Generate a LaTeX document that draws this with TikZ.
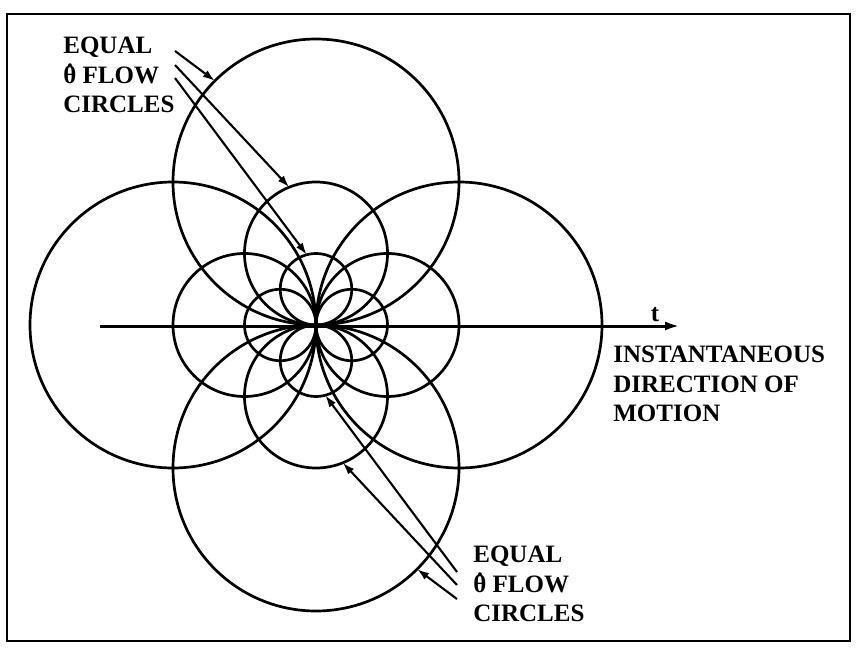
\documentclass[tikz,border=0pt]{standalone}
\usepackage{fontspec}
\setmainfont{Liberation Serif}
\usetikzlibrary{arrows.meta}
\newcommand{\thetadot}{\ooalign{θ\cr\hidewidth\smash{\raisebox{0.64em}{.}}\hidewidth\cr}}

\begin{document}
\begin{tikzpicture}[x=1pt, y=-1pt, line width=2.7pt,
  ring/.style={draw, circle, inner sep=0pt, outer sep=0pt},
  lbl/.style={font=\fontsize{25}{29.5}\selectfont\bfseries, align=left, inner sep=0pt, anchor=north west},
  ptr/.style={-{Latex[length=12pt, width=8pt]}, line width=2.1pt}]
  \useasboundingbox (0,0) rectangle (856,655);
  \draw[line width=2.8pt] (7,14) rectangle (850,641);
  \node[ring, minimum size=286pt] (bigtop) at (316,182) {};
  \node[ring, minimum size=286pt] (bigbot) at (316,468) {};
  \node[ring, minimum size=286pt] (bigleft) at (173,325) {};
  \node[ring, minimum size=286pt] (bigright) at (459,325) {};
  \node[ring, minimum size=143pt] (midtop) at (316,253.5) {};
  \node[ring, minimum size=143pt] (midbot) at (316,396.5) {};
  \node[ring, minimum size=143pt] (midleft) at (244.5,325) {};
  \node[ring, minimum size=143pt] (midright) at (387.5,325) {};
  \node[ring, minimum size=71.5pt] (smltop) at (316,289.25) {};
  \node[ring, minimum size=71.5pt] (smlbot) at (316,360.75) {};
  \node[ring, minimum size=71.5pt] (smlleft) at (280.25,325) {};
  \node[ring, minimum size=71.5pt] (smlright) at (351.75,325) {};
  \coordinate (axstart) at (100,326);
  \coordinate (axend) at (680,326);
  \draw[-{Latex[length=15pt, width=9pt]}, line width=3pt] (axstart) -- (axend);
  \node[lbl, anchor=base] (tlabel) at (655,321) {t};
  \node[lbl] (motion) at (612,345) {INSTANTANEOUS\\DIRECTION OF\\MOTION};
  \node[lbl] (eqtop) at (62,36) {EQUAL\\\thetadot{} FLOW\\CIRCLES};
  \node[lbl] (eqbot) at (472,545) {EQUAL\\\thetadot{} FLOW\\CIRCLES};
  \coordinate (ta) at (175,51);
  \coordinate (tb) at (175,65);
  \coordinate (tc) at (175,78);
  \coordinate (ba) at (457,572);
  \coordinate (bb) at (457,585);
  \coordinate (bc) at (457,599);
  \draw[ptr] (ta) -- (bigtop.135);
  \draw[ptr] (tb) -- (midtop.112);
  \draw[ptr] (tc) -- (smltop.105);
  \draw[ptr] (ba) -- (smlbot.-75);
  \draw[ptr] (bb) -- (midbot.-68);
  \draw[ptr] (bc) -- (bigbot.-45);
\end{tikzpicture}
\end{document}
